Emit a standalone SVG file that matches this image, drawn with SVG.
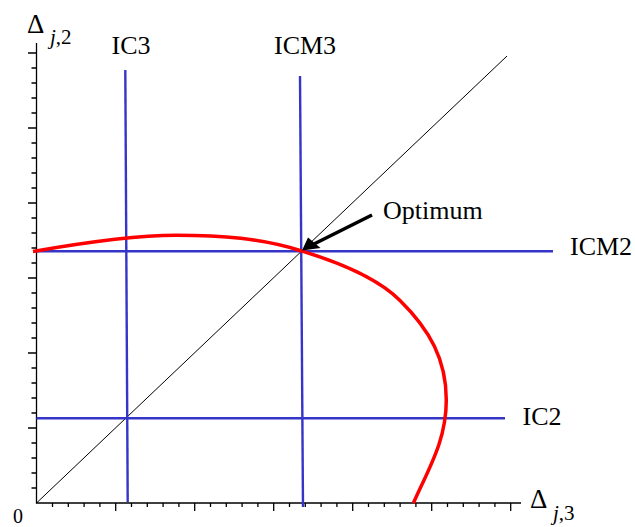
<svg xmlns="http://www.w3.org/2000/svg" width="635" height="527" viewBox="0 0 635 527">
<style>
.t{font-family:"Liberation Serif","Times New Roman",serif;font-size:26px;fill:#000}
.ax{stroke:#000;stroke-width:1.3;fill:none}
.ic{stroke:#3535c8;stroke-width:2.4;fill:none}
.cv{stroke:#ff0000;stroke-width:3.5;fill:none;stroke-linecap:butt}
</style>
<rect width="635" height="527" fill="#fff"/>
<g id="axes">
<path class="ax" d="M36.5,43V503H521"/>
<path class="ax" d="M31.5,488H36.5M31.5,473H36.5M31.5,458H36.5M31.5,443H36.5M31.5,413H36.5M31.5,398H36.5M31.5,383H36.5M31.5,368H36.5M31.5,338H36.5M31.5,323H36.5M31.5,308H36.5M31.5,293H36.5M31.5,263H36.5M31.5,248H36.5M31.5,233H36.5M31.5,218H36.5M31.5,188H36.5M31.5,173H36.5M31.5,158H36.5M31.5,143H36.5M31.5,113H36.5M31.5,98H36.5M31.5,83H36.5M31.5,68H36.5M28,428H36.5M28,353H36.5M28,278H36.5M28,203H36.5M28,128H36.5M28,53H36.5"/>
<path class="ax" d="M52.5,503V507M68.3,503V507M84.1,503V507M99.9,503V507M131.5,503V507M147.3,503V507M163.1,503V507M178.9,503V507M210.5,503V507M226.3,503V507M242.1,503V507M257.9,503V507M289.5,503V507M305.3,503V507M321.1,503V507M336.9,503V507M368.5,503V507M384.3,503V507M400.1,503V507M415.9,503V507M447.5,503V507M463.3,503V507M479.1,503V507M494.9,503V507M115.7,503V511M194.7,503V511M273.7,503V511M352.7,503V511M431.7,503V511M510.7,503V511"/>
<text class="t" x="13" y="523" style="font-size:20px">0</text>
<text class="t" x="530" y="508" style="font-size:27px">Δ</text>
<text class="t" x="553" y="520" style="font-size:21px"><tspan font-style="italic">j</tspan>,3</text>
<text class="t" x="27" y="33" style="font-size:27px">Δ</text>
<text class="t" x="50" y="44" style="font-size:21px"><tspan font-style="italic">j</tspan>,2</text>
</g>
<g id="diagonal">
<line x1="36.5" y1="503" x2="507" y2="56" stroke="#000" stroke-width="1"/>
</g>
<g id="IC3">
<line class="ic" x1="125.3" y1="70" x2="127.7" y2="502"/>
<text class="t" x="111.5" y="54">IC3</text>
</g>
<g id="ICM3">
<line class="ic" x1="300" y1="76" x2="303" y2="507"/>
<text class="t" x="274" y="53.5">ICM3</text>
</g>
<g id="ICM2">
<line class="ic" x1="33" y1="251.3" x2="553" y2="251.3"/>
<text class="t" x="570" y="255">ICM2</text>
</g>
<g id="IC2">
<line class="ic" x1="36.5" y1="418.3" x2="505" y2="418.3"/>
<text class="t" x="522.5" y="425">IC2</text>
</g>
<g id="curve">
<path class="cv" d="M33,251.5C73,244.5 131,235.3 176,235.3C221,235.3 261.7,238.2 301.7,251C318,256 371.7,272 400,300.5C430,330 446.3,360 446.3,400C446.3,440 429.6,466.8 413.3,503.3"/>
</g>
<g id="Optimum">
<text class="t" x="383" y="219">Optimum</text>
</g>
<g id="connectors">
<line x1="372" y1="215" x2="314" y2="244" stroke="#000" stroke-width="3.5"/>
<polygon points="302,250.5 308,237.5 320.5,248" fill="#000"/>
</g>
</svg>
